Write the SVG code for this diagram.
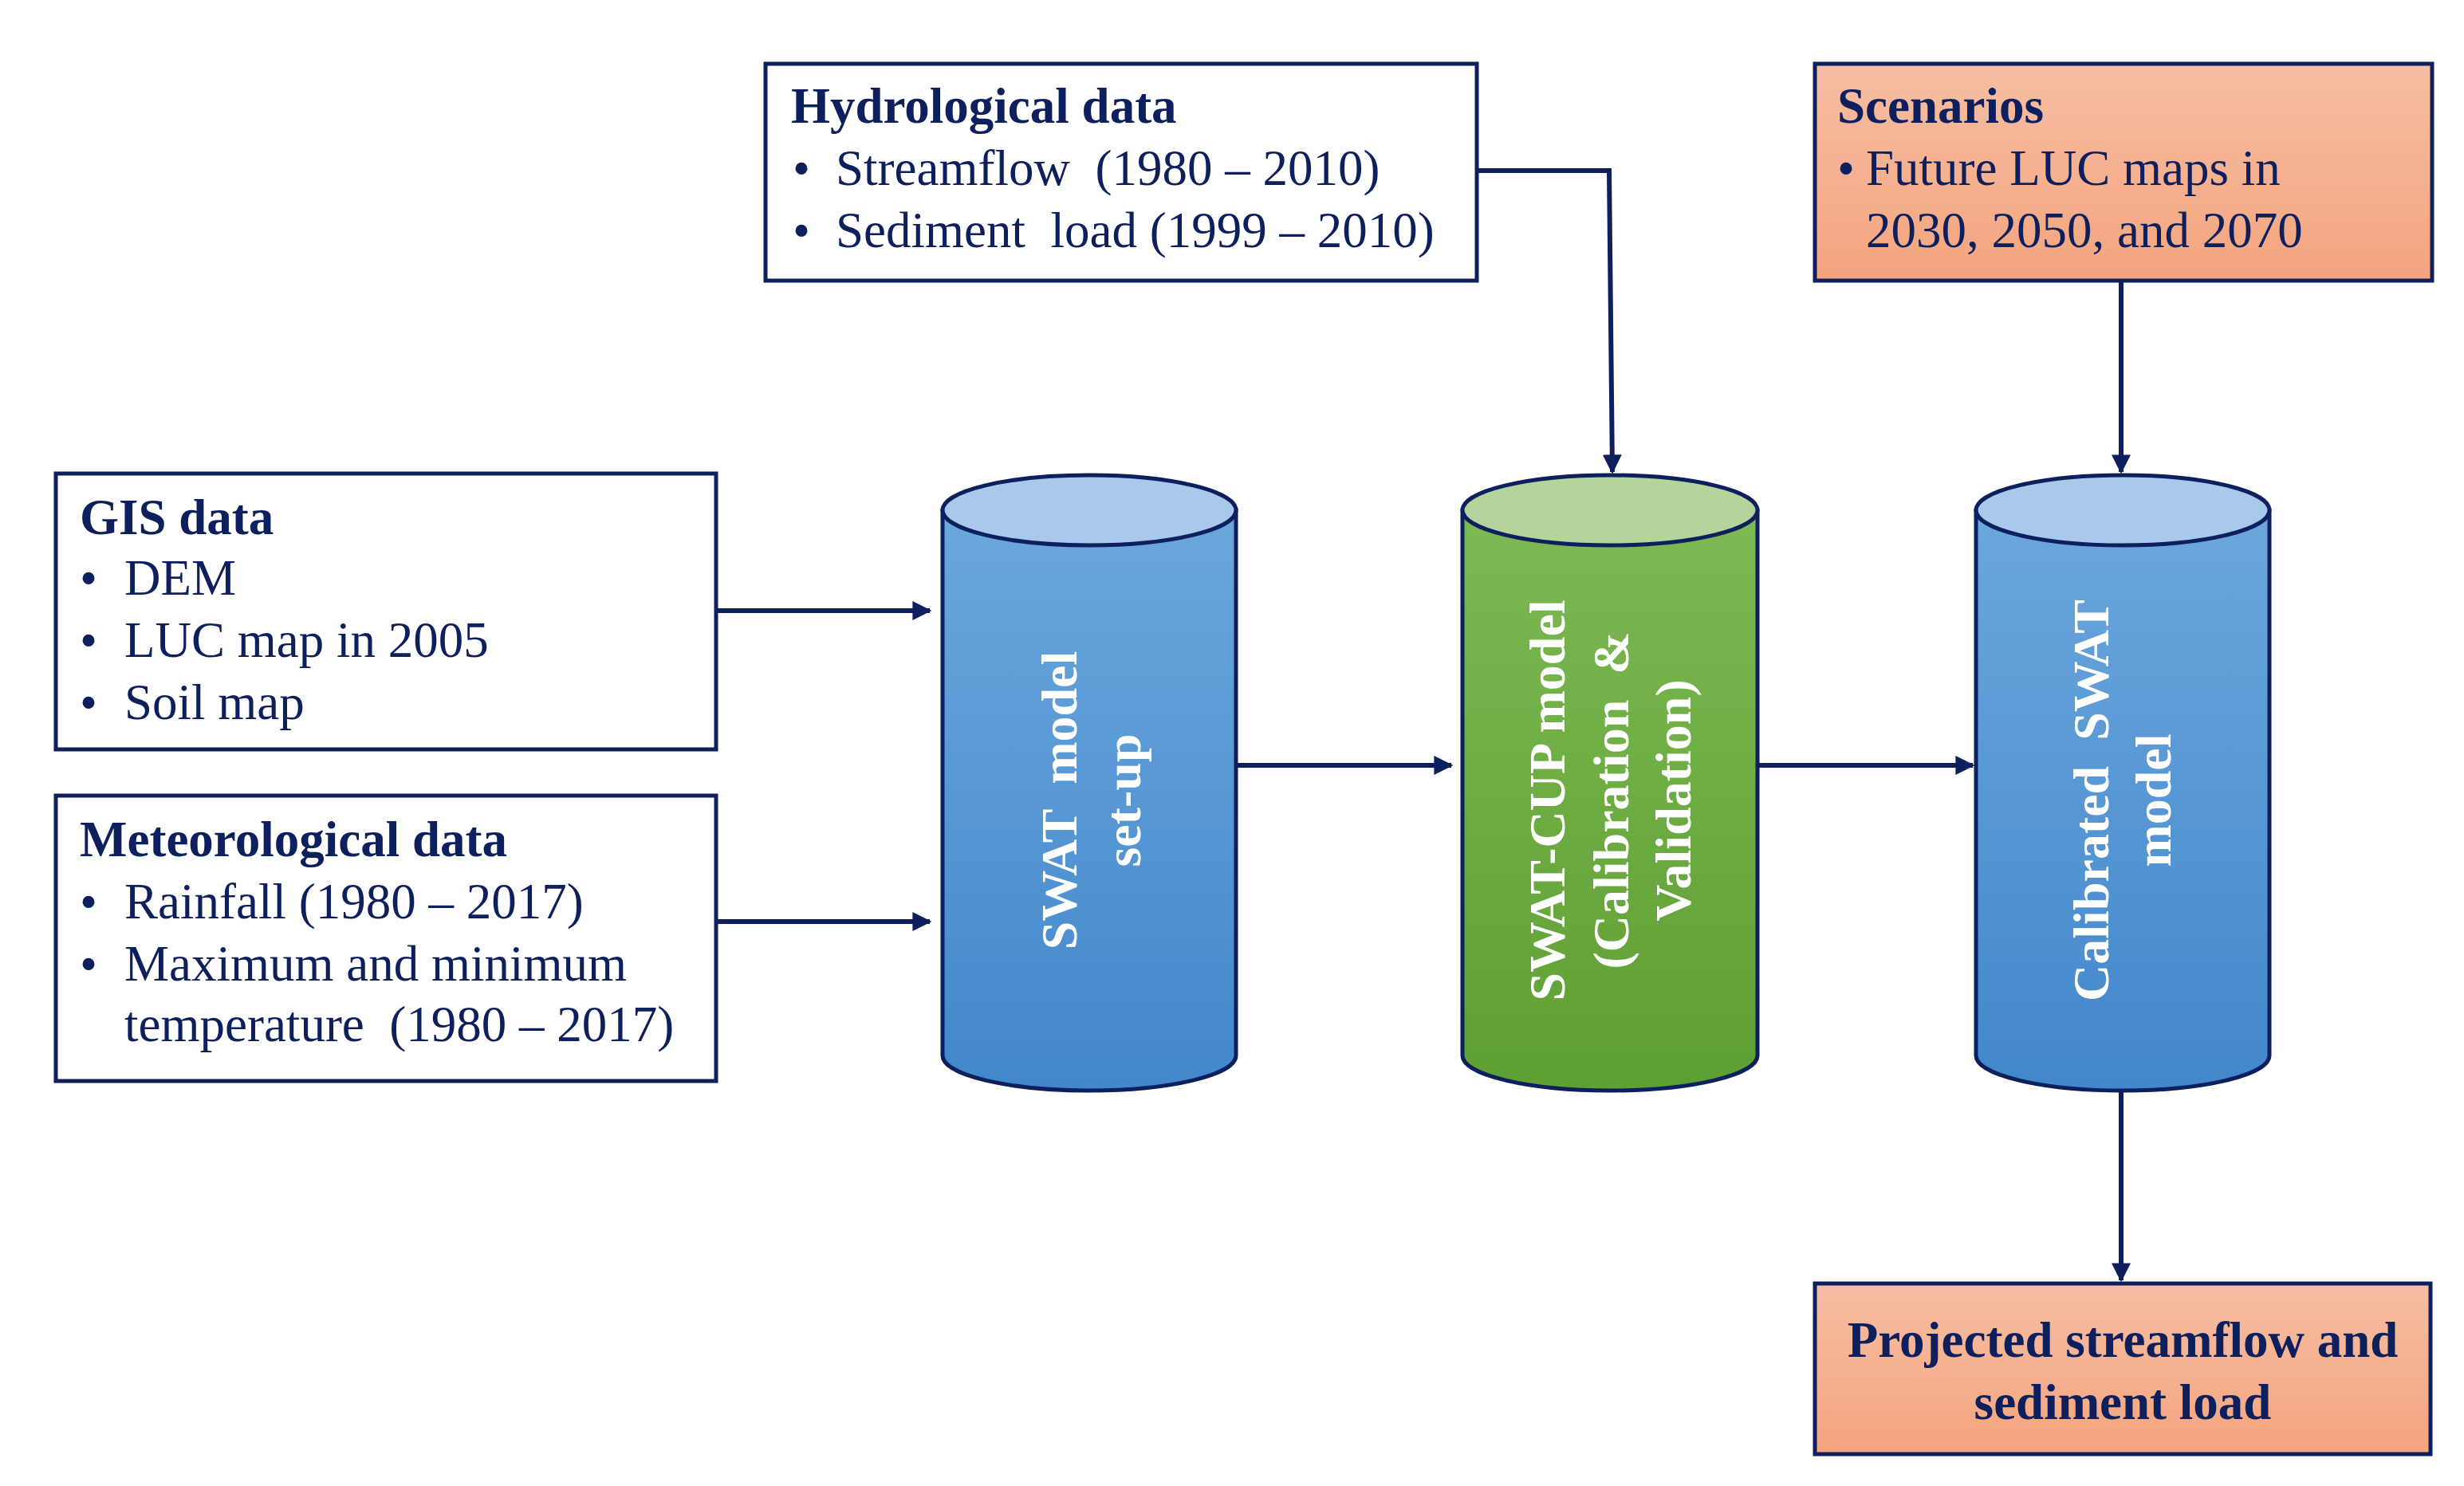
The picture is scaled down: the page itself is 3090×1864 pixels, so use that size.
<svg xmlns="http://www.w3.org/2000/svg" width="3090" height="1864" viewBox="0 0 3090 1864">
<style>
.box{fill:#fff;stroke:#0d1f5c;stroke-width:5}
.obox{fill:url(#og);stroke:#0d1f5c;stroke-width:5}
.t{font-family:"Liberation Serif",serif;font-size:63px;fill:#0d1f5c}
.b{font-weight:bold}
.ct{font-family:"Liberation Serif",serif;font-size:64px;font-weight:bold;fill:#fff;text-anchor:middle}
.cyl{stroke:#0d1f5c;stroke-width:5}
.c{fill:none;stroke:#0d1f5c;stroke-width:6}
</style>
<defs>
<linearGradient id="og" x1="0" y1="0" x2="0" y2="1"><stop offset="0" stop-color="#f6bea3"/><stop offset="1" stop-color="#f4a47e"/></linearGradient>
<linearGradient id="bg" x1="0" y1="0" x2="0" y2="1"><stop offset="0" stop-color="#6ca7dd"/><stop offset="1" stop-color="#4287cb"/></linearGradient>
<linearGradient id="gg" x1="0" y1="0" x2="0" y2="1"><stop offset="0" stop-color="#7db954"/><stop offset="1" stop-color="#5e9f33"/></linearGradient>
<marker id="ah" viewBox="0 0 10 10" refX="9" refY="5" markerWidth="4" markerHeight="4" markerUnits="strokeWidth" orient="auto"><path d="M0,0 L10,5 L0,10 z" fill="#0d1f5c"/></marker>
</defs>

<g id="hydro">
<rect class="box" x="960" y="80" width="892" height="272"/>
<text class="t b" x="992" y="154">Hydrological data</text>
<text class="t" x="994" y="232">•</text><text class="t" x="1048" y="232" xml:space="preserve">Streamflow  (1980 – 2010)</text>
<text class="t" x="994" y="310">•</text><text class="t" x="1048" y="310" xml:space="preserve">Sediment  load (1999 – 2010)</text>
</g>
<g id="scenarios">
<rect class="obox" x="2276" y="80" width="774" height="272"/>
<text class="t b" x="2304" y="154">Scenarios</text>
<text class="t" x="2304" y="232">•</text><text class="t" x="2340" y="232">Future LUC maps in</text>
<text class="t" x="2340" y="310">2030, 2050, and 2070</text>
</g>
<g id="gis">
<rect class="box" x="70" y="594" width="828" height="346"/>
<text class="t b" x="100" y="670">GIS data</text>
<text class="t" x="100" y="746">•</text><text class="t" x="156" y="746">DEM</text>
<text class="t" x="100" y="824">•</text><text class="t" x="156" y="824">LUC map in 2005</text>
<text class="t" x="100" y="902">•</text><text class="t" x="156" y="902">Soil map</text>
</g>
<g id="met">
<rect class="box" x="70" y="998" width="828" height="358"/>
<text class="t b" x="100" y="1074">Meteorological data</text>
<text class="t" x="100" y="1152">•</text><text class="t" x="156" y="1152">Rainfall (1980 – 2017)</text>
<text class="t" x="100" y="1230">•</text><text class="t" x="156" y="1230">Maximum and minimum</text>
<text class="t" x="156" y="1306" xml:space="preserve">temperature  (1980 – 2017)</text>
</g>
<g id="projected">
<rect class="obox" x="2276" y="1610" width="772" height="214"/>
<text class="t b" x="2662" y="1702" text-anchor="middle">Projected streamflow and</text>
<text class="t b" x="2662" y="1780" text-anchor="middle">sediment load</text>
</g>

<g id="cyl1">
<path class="cyl" fill="url(#bg)" d="M1182,640 V1324 A184,44 0 0 0 1550,1324 V640 Z"/>
<ellipse class="cyl" fill="#a9c9ea" cx="1366" cy="640" rx="184" ry="44"/>
<text class="ct" transform="translate(1350,1004) rotate(-90)" xml:space="preserve">SWAT  model</text>
<text class="ct" transform="translate(1430,1004) rotate(-90)">set-up</text>
</g>
<g id="cyl2">
<path class="cyl" fill="url(#gg)" d="M1834,640 V1324 A185,44 0 0 0 2204,1324 V640 Z"/>
<ellipse class="cyl" fill="#b3d59b" cx="2019" cy="640" rx="185" ry="44"/>
<text class="ct" transform="translate(1962,1004) rotate(-90)">SWAT-CUP model</text>
<text class="ct" transform="translate(2042,1004) rotate(-90)" xml:space="preserve">(Calibration  &amp;</text>
<text class="ct" transform="translate(2120,1004) rotate(-90)">Validation)</text>
</g>
<g id="cyl3">
<path class="cyl" fill="url(#bg)" d="M2478,640 V1324 A184,44 0 0 0 2846,1324 V640 Z"/>
<ellipse class="cyl" fill="#a9c9ea" cx="2662" cy="640" rx="184" ry="44"/>
<text class="ct" transform="translate(2644,1004) rotate(-90)" xml:space="preserve">Calibrated  SWAT</text>
<text class="ct" transform="translate(2722,1004) rotate(-90)">model</text>
</g>

<g id="connectors">
<path class="c" d="M898,766 H1166" marker-end="url(#ah)"/>
<path class="c" d="M898,1156 H1166" marker-end="url(#ah)"/>
<path class="c" d="M1550,960 H1820" marker-end="url(#ah)"/>
<path class="c" d="M2204,960 H2474" marker-end="url(#ah)"/>
<path class="c" d="M1852,214 H2018 L2022,592" marker-end="url(#ah)"/>
<path class="c" d="M2660,352 V592" marker-end="url(#ah)"/>
<path class="c" d="M2660,1368 V1606" marker-end="url(#ah)"/>
</g>
</svg>
